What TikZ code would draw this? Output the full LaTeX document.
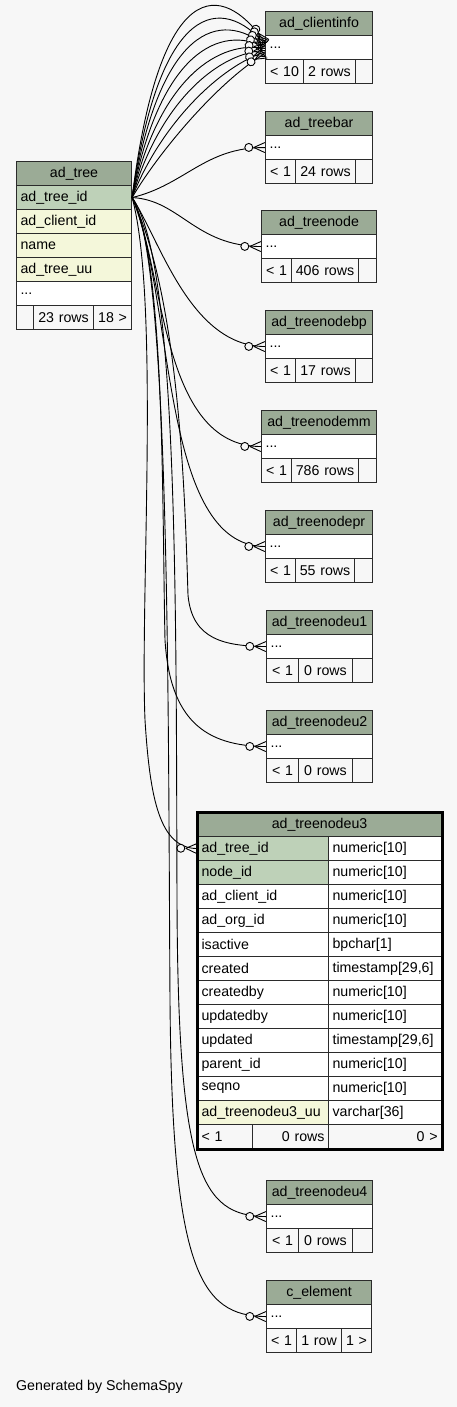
\documentclass[tikz,border=0pt]{standalone}
\usepackage{fontspec}
\setmainfont{Liberation Sans}
\usetikzlibrary{decorations.markings}
\definecolor{bg}{HTML}{F7F7F7}
\definecolor{hdrfill}{HTML}{9BAB96}
\definecolor{keyfill}{HTML}{BED1B8}
\definecolor{idxfill}{HTML}{F4F7DA}
\definecolor{rulegray}{HTML}{2B2B2B}

\begin{document}
\begin{tikzpicture}[x=1pt,y=-1pt,
  cell/.style={draw=rulegray, line width=1.1pt, anchor=north west, minimum height=24, inner xsep=4, inner ysep=0, font=\fontsize{14.2}{16}\selectfont, align=left},
  cellw/.style={minimum width=#1, text width=#1-8},
  hdr/.style={cell, fill=hdrfill, align=center},
  key/.style={cell, fill=keyfill},
  idx/.style={cell, fill=idxfill},
  body/.style={cell, fill=white},
  foot/.style={cell, fill=bg, align=center},
  many/.style={postaction={decorate}, decoration={markings, mark=at position -0.2pt with {\draw[black, line width=0.9pt, fill=bg] (-16,0) circle (4pt); \draw[black, line width=0.9pt] (-11,0) -- (0,5) (-11,0) -- (0,-5);}}},
  fk/.style={draw=black, line width=0.9pt, many},
]
  \useasboundingbox[fill=bg] (0,0) rectangle (457,1407);
  % ad_tree
  \node[hdr, cellw=115] (tree) at (16,161) {ad\_tree};
  \node[key, cellw=115] (tree-id) at (16,185) {ad\_tree\_id};
  \node[idx, cellw=115] (tree-client) at (16,209) {ad\_client\_id};
  \node[idx, cellw=115] (tree-name) at (16,233) {name};
  \node[idx, cellw=115] (tree-uu) at (16,257) {ad\_tree\_uu};
  \node[body, cellw=115] (tree-more) at (16,281) {...};
  \node[foot, cellw=17] (tree-f1) at (16,305) {};
  \node[foot, cellw=60] (tree-f2) at (33,305) {23 rows};
  \node[foot, cellw=38] (tree-f3) at (93,305) {18 >};
  % ad_clientinfo
  \node[hdr, cellw=107] (ci) at (265,11) {ad\_clientinfo};
  \node[body, cellw=107] (ci-row) at (265,35) {...};
  \node[foot, cellw=38] (ci-f1) at (265,59) {< 10};
  \node[foot, cellw=52] (ci-f2) at (303,59) {2 rows};
  \node[foot, cellw=17] (ci-f3) at (355,59) {};
  % ad_treebar
  \node[hdr, cellw=107] (bar) at (265,111) {ad\_treebar};
  \node[body, cellw=107] (bar-row) at (265,135) {...};
  \node[foot, cellw=30] (bar-f1) at (265,159) {< 1};
  \node[foot, cellw=60] (bar-f2) at (295,159) {24 rows};
  \node[foot, cellw=17] (bar-f3) at (355,159) {};
  % ad_treenode
  \node[hdr, cellw=115] (node) at (261,210) {ad\_treenode};
  \node[body, cellw=115] (node-row) at (261,234) {...};
  \node[foot, cellw=30] (node-f1) at (261,258) {< 1};
  \node[foot, cellw=67] (node-f2) at (291,258) {406 rows};
  \node[foot, cellw=18] (node-f3) at (358,258) {};
  % ad_treenodebp
  \node[hdr, cellw=107] (bp) at (265,310) {ad\_treenodebp};
  \node[body, cellw=107] (bp-row) at (265,334) {...};
  \node[foot, cellw=30] (bp-f1) at (265,358) {< 1};
  \node[foot, cellw=60] (bp-f2) at (295,358) {17 rows};
  \node[foot, cellw=17] (bp-f3) at (355,358) {};
  % ad_treenodemm
  \node[hdr, cellw=115] (mm) at (261,410) {ad\_treenodemm};
  \node[body, cellw=115] (mm-row) at (261,434) {...};
  \node[foot, cellw=30] (mm-f1) at (261,458) {< 1};
  \node[foot, cellw=67] (mm-f2) at (291,458) {786 rows};
  \node[foot, cellw=18] (mm-f3) at (358,458) {};
  % ad_treenodepr
  \node[hdr, cellw=107] (pr) at (265,510) {ad\_treenodepr};
  \node[body, cellw=107] (pr-row) at (265,534) {...};
  \node[foot, cellw=30] (pr-f1) at (265,558) {< 1};
  \node[foot, cellw=59] (pr-f2) at (295,558) {55 rows};
  \node[foot, cellw=18] (pr-f3) at (354,558) {};
  % ad_treenodeu1
  \node[hdr, cellw=106] (u1) at (266,610) {ad\_treenodeu1};
  \node[body, cellw=106] (u1-row) at (266,634) {...};
  \node[foot, cellw=32] (u1-f1) at (266,658) {< 1};
  \node[foot, cellw=54] (u1-f2) at (298,658) {0 rows};
  \node[foot, cellw=20] (u1-f3) at (352,658) {};
  % ad_treenodeu2
  \node[hdr, cellw=106] (u2) at (266,710) {ad\_treenodeu2};
  \node[body, cellw=106] (u2-row) at (266,734) {...};
  \node[foot, cellw=32] (u2-f1) at (266,758) {< 1};
  \node[foot, cellw=54] (u2-f2) at (298,758) {0 rows};
  \node[foot, cellw=20] (u2-f3) at (352,758) {};
  % ad_treenodeu3
  \node[hdr, cellw=244] (u3) at (197,812) {ad\_treenodeu3};
  \node[key, cellw=131] (u3-id) at (197,836) {ad\_tree\_id};
  \node[body, cellw=113] (u3-id-t) at (328,836) {numeric[10]};
  \node[key, cellw=131] (u3-node) at (197,860) {node\_id};
  \node[body, cellw=113] (u3-node-t) at (328,860) {numeric[10]};
  \node[body, cellw=131] (u3-client) at (197,884) {ad\_client\_id};
  \node[body, cellw=113] (u3-client-t) at (328,884) {numeric[10]};
  \node[body, cellw=131] (u3-org) at (197,908) {ad\_org\_id};
  \node[body, cellw=113] (u3-org-t) at (328,908) {numeric[10]};
  \node[body, cellw=131] (u3-active) at (197,932) {isactive};
  \node[body, cellw=113] (u3-active-t) at (328,932) {bpchar[1]};
  \node[body, cellw=131] (u3-created) at (197,956) {created};
  \node[body, cellw=113] (u3-created-t) at (328,956) {timestamp[29,6]};
  \node[body, cellw=131] (u3-createdby) at (197,980) {createdby};
  \node[body, cellw=113] (u3-createdby-t) at (328,980) {numeric[10]};
  \node[body, cellw=131] (u3-updatedby) at (197,1004) {updatedby};
  \node[body, cellw=113] (u3-updatedby-t) at (328,1004) {numeric[10]};
  \node[body, cellw=131] (u3-updated) at (197,1028) {updated};
  \node[body, cellw=113] (u3-updated-t) at (328,1028) {timestamp[29,6]};
  \node[body, cellw=131] (u3-parent) at (197,1052) {parent\_id};
  \node[body, cellw=113] (u3-parent-t) at (328,1052) {numeric[10]};
  \node[body, cellw=131] (u3-seqno) at (197,1076) {seqno};
  \node[body, cellw=113] (u3-seqno-t) at (328,1076) {numeric[10]};
  \node[idx, cellw=131] (u3-uu) at (197,1100) {ad\_treenodeu3\_uu};
  \node[body, cellw=113] (u3-uu-t) at (328,1100) {varchar[36]};
  \node[foot, cellw=55, align=left] (u3-f1) at (197,1124) {< 1};
  \node[foot, cellw=76, align=right] (u3-f2) at (252,1124) {0 rows};
  \node[foot, cellw=113, align=right] (u3-f3) at (328,1124) {0 >};
  \draw[line width=3pt] (u3.north west) rectangle (u3-f3.south east);
  % ad_treenodeu4
  \node[hdr, cellw=106] (u4) at (266,1180) {ad\_treenodeu4};
  \node[body, cellw=106] (u4-row) at (266,1204) {...};
  \node[foot, cellw=32] (u4-f1) at (266,1228) {< 1};
  \node[foot, cellw=54] (u4-f2) at (298,1228) {0 rows};
  \node[foot, cellw=20] (u4-f3) at (352,1228) {};
  % c_element
  \node[hdr, cellw=105] (el) at (266,1280) {c\_element};
  \node[body, cellw=105] (el-row) at (266,1304) {...};
  \node[foot, cellw=30] (el-f1) at (266,1328) {< 1};
  \node[foot, cellw=45] (el-f2) at (296,1328) {1 row};
  \node[foot, cellw=30] (el-f3) at (341,1328) {1 >};
  % foreign keys into ad_clientinfo
  \draw[fk] (tree-id.east) .. controls (160,-25) and (222,-20) .. ([yshift=5]ci-row.west);
  \draw[fk] (tree-id.east) .. controls (160,0) and (222,-5) .. ([yshift=3.5]ci-row.west);
  \draw[fk] (tree-id.east) .. controls (160,25) and (221,10) .. ([yshift=2]ci-row.west);
  \draw[fk] (tree-id.east) .. controls (160,50) and (221,25) .. ([yshift=0.5]ci-row.west);
  \draw[fk] (tree-id.east) .. controls (160,75) and (221,40) .. ([yshift=-1]ci-row.west);
  \draw[fk] (tree-id.east) .. controls (160,100) and (220,52) .. ([yshift=-3]ci-row.west);
  \draw[fk] (tree-id.east) .. controls (160,125) and (220,66) .. ([yshift=-4.5]ci-row.west);
  \draw[fk] (tree-id.east) .. controls (160,150) and (220,80) .. ([yshift=-6]ci-row.west);
  % foreign keys into the other tables
  \draw[fk] (tree-id.east) .. controls (185,185) and (205,147) .. (bar-row.west);
  \draw[fk] (tree-id.east) .. controls (180,200) and (195,246) .. (node-row.west);
  \draw[fk] (tree-id.east) .. controls (160,240) and (190,346) .. (bp-row.west);
  \draw[fk] (tree-id.east) .. controls (165,270) and (160,446) .. (mm-row.west);
  \draw[fk] (tree-id.east) .. controls (175,300) and (160,546) .. (pr-row.west);
  \draw[fk] (tree-id.east) .. controls (180,300) and (185,500) .. (188,595) .. controls (192,640) and (225,646) .. (u1-row.west);
  \draw[fk] (tree-id.east) .. controls (165,260) and (162,500) .. (165,640) .. controls (170,720) and (205,746) .. (u2-row.west);
  \draw[fk] (tree-id.east) .. controls (160,300) and (140,600) .. (145,720) .. controls (150,800) and (160,848) .. (u3-id.west);
  \draw[fk] (tree-id.east) .. controls (178,260) and (176,600) .. (177,900) .. controls (178,1170) and (200,1216) .. (u4-row.west);
  \draw[fk] (tree-id.east) .. controls (170,260) and (168,700) .. (170,1000) .. controls (172,1270) and (200,1316) .. (el-row.west);
  \node[anchor=west, inner sep=0, font=\fontsize{14.2}{16}\selectfont] (credit) at (16,1387) {Generated by SchemaSpy};
\end{tikzpicture}
\end{document}
